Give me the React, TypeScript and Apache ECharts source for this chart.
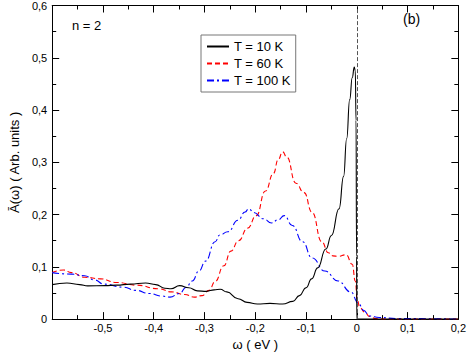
import React, { useEffect, useRef } from "react";
import * as echarts from "echarts";

const xTicks = [-0.6, -0.5, -0.4, -0.3, -0.2, -0.1, 0, 0.1, 0.2];
const yTicks = [0, 0.1, 0.2, 0.3, 0.4, 0.5, 0.6];
const seriesNames = ["T = 10 K", "T = 60 K", "T = 100 K"];

const t10: [number, number][] = [
  [-0.6, 0.066], [-0.571, 0.069], [-0.546, 0.066], [-0.53, 0.0635], [-0.496, 0.064],
  [-0.473, 0.065], [-0.446, 0.067], [-0.416, 0.069], [-0.396, 0.066], [-0.378, 0.059],
  [-0.366, 0.058], [-0.349, 0.064], [-0.331, 0.06], [-0.314, 0.054], [-0.296, 0.053],
  [-0.281, 0.056], [-0.269, 0.057], [-0.256, 0.052], [-0.234, 0.039], [-0.216, 0.032],
  [-0.196, 0.029], [-0.171, 0.03], [-0.146, 0.029], [-0.126, 0.034], [-0.113, 0.045],
  [-0.1, 0.06], [-0.089, 0.077], [-0.077, 0.098], [-0.061, 0.134], [-0.05, 0.16],
  [-0.035, 0.211], [-0.026, 0.273], [-0.02, 0.345], [-0.014, 0.42], [-0.009, 0.462],
  [-0.005, 0.482], [-0.003, 0.475], [-0.0015, 0.38], [-0.0005, 0.12], [0, 0], [0.2, 0],
];

const t60: [number, number][] = [
  [-0.6, 0.089], [-0.578, 0.094], [-0.562, 0.089], [-0.536, 0.08], [-0.505, 0.077],
  [-0.473, 0.07], [-0.435, 0.065], [-0.39, 0.058], [-0.365, 0.052], [-0.339, 0.047],
  [-0.32, 0.042], [-0.305, 0.045], [-0.291, 0.055], [-0.279, 0.072], [-0.262, 0.102],
  [-0.248, 0.13], [-0.233, 0.15], [-0.215, 0.174], [-0.198, 0.198], [-0.18, 0.245],
  [-0.164, 0.279], [-0.155, 0.305], [-0.146, 0.32], [-0.138, 0.31], [-0.12, 0.26],
  [-0.104, 0.242], [-0.088, 0.204], [-0.069, 0.148], [-0.056, 0.127], [-0.047, 0.121],
  [-0.037, 0.12], [-0.021, 0.123], [-0.009, 0.105], [-0.003, 0.073], [0.001, 0.036],
  [0.006, 0.022], [0.016, 0.013], [0.025, 0.005], [0.037, 0.001], [0.05, 0], [0.2, 0],
];

const t100: [number, number][] = [
  [-0.6, 0.089], [-0.562, 0.086], [-0.536, 0.083], [-0.517, 0.075], [-0.498, 0.067],
  [-0.46, 0.061], [-0.435, 0.055], [-0.409, 0.049], [-0.384, 0.044], [-0.368, 0.042],
  [-0.349, 0.049], [-0.336, 0.061], [-0.324, 0.073], [-0.311, 0.092], [-0.298, 0.111],
  [-0.279, 0.148], [-0.27, 0.161], [-0.254, 0.167], [-0.234, 0.189], [-0.22, 0.205],
  [-0.213, 0.211], [-0.203, 0.204], [-0.184, 0.192], [-0.168, 0.184], [-0.155, 0.19],
  [-0.143, 0.198], [-0.127, 0.179], [-0.107, 0.148], [-0.088, 0.117], [-0.063, 0.092],
  [-0.037, 0.073], [-0.012, 0.052], [0.003, 0.031], [0.013, 0.017], [0.025, 0.006],
  [0.044, 0.003], [0.08, 0.001], [0.2, 0],
];

const FONT = "'Liberation Sans', Arial, Helvetica, sans-serif";

const fmt = (v: number) => {
  if (Math.abs(v) < 1e-9) return "0";
  return v.toFixed(1).replace(".", ",");
};

export default function App() {
  const ref = useRef<HTMLDivElement>(null);

  useEffect(() => {
    if (!ref.current) return;
    const chart = echarts.init(ref.current, null, { renderer: "svg" });

    const xMin = xTicks[0];
    const xMax = xTicks[xTicks.length - 1];
    const yMin = yTicks[0];
    const yMax = yTicks[yTicks.length - 1];

    const baseAxisLine = { show: true, lineStyle: { color: "#000", width: 1 } };
    const tick = { show: true, inside: true, length: 7, lineStyle: { color: "#000" } };
    const minor = { show: true, splitNumber: 2, length: 4, lineStyle: { color: "#000" } };

    const option: any = {
      animation: false,
      backgroundColor: "#fff",
      grid: { left: 38, right: 10, top: 5, bottom: 30, containLabel: false },
      xAxis: [
        {
          type: "value",
          position: "bottom",
          min: xMin,
          max: xMax,
          interval: 0.1,
          axisLine: { ...baseAxisLine, onZero: false },
          axisTick: tick,
          minorTick: minor,
          splitLine: { show: false },
          axisLabel: {
            formatter: fmt,
            showMinLabel: false,
            showMaxLabel: true,
            margin: 3,
            color: "#000",
            fontSize: 11,
            fontFamily: FONT,
          },
          name: "ω ( eV )",
          nameLocation: "middle",
          nameGap: 17,
          nameTextStyle: { color: "#000", fontSize: 13, fontFamily: FONT },
        },
        {
          type: "value",
          position: "top",
          min: xMin,
          max: xMax,
          interval: 0.1,
          axisLine: { ...baseAxisLine, onZero: false },
          axisTick: tick,
          minorTick: minor,
          splitLine: { show: false },
          axisLabel: { show: false },
        },
      ],
      yAxis: [
        {
          type: "value",
          position: "left",
          min: yMin,
          max: yMax,
          interval: 0.1,
          axisLine: { ...baseAxisLine, onZero: false },
          axisTick: tick,
          minorTick: minor,
          splitLine: { show: false },
          axisLabel: {
            formatter: fmt,
            margin: 5,
            color: "#000",
            fontSize: 11,
            fontFamily: FONT,
          },
          name: "Ā(ω) ( Arb. units )",
          nameLocation: "middle",
          nameGap: 21,
          nameRotate: 90,
          nameTextStyle: { color: "#000", fontSize: 13, fontFamily: FONT },
        },
        {
          type: "value",
          position: "right",
          min: yMin,
          max: yMax,
          interval: 0.1,
          axisLine: { ...baseAxisLine, onZero: false },
          axisTick: tick,
          minorTick: minor,
          splitLine: { show: false },
          axisLabel: { show: false },
        },
      ],
      legend: {
        data: seriesNames,
        orient: "vertical",
        left: 201,
        top: 35,
        itemWidth: 22,
        itemHeight: 14,
        itemGap: 4,
        padding: [5, 5, 5, 5],
        borderColor: "#777",
        borderWidth: 1,
        backgroundColor: "#fff",
        itemStyle: { opacity: 0, borderWidth: 0, color: "rgba(0,0,0,0)" },
        textStyle: { color: "#000", fontSize: 13, fontFamily: FONT },
      },
      graphic: [
        {
          type: "text",
          left: 72,
          top: 19,
          style: { text: "n = 2", fontSize: 13, fontFamily: FONT, fill: "#000" },
        },
        {
          type: "text",
          left: 403,
          top: 12,
          style: { text: "(b)", fontSize: 14, fontFamily: FONT, fill: "#000" },
        },
      ],
      series: [
        {
          name: seriesNames[0],
          type: "line",
          data: t10,
          symbol: "none",
          smooth: 0.5,
          smoothMonotone: "x",
          lineStyle: { color: "#000", width: 1.1, type: "solid" },
          itemStyle: { color: "#000" },
          z: 3,
          markLine: {
            silent: true,
            symbol: "none",
            label: { show: false },
            lineStyle: { color: "#555", width: 1, type: [4, 2] },
            data: [{ xAxis: 0 }],
          },
        },
        {
          name: seriesNames[1],
          type: "line",
          data: t60,
          symbol: "none",
          smooth: 0.5,
          smoothMonotone: "x",
          lineStyle: { color: "#ff0000", width: 1.1, type: [5, 3] },
          itemStyle: { color: "#ff0000" },
          z: 2,
        },
        {
          name: seriesNames[2],
          type: "line",
          data: t100,
          symbol: "none",
          smooth: 0.5,
          smoothMonotone: "x",
          lineStyle: { color: "#0000ff", width: 1.1, type: [7, 3, 2, 3] },
          itemStyle: { color: "#0000ff" },
          z: 2,
        },
      ],
    };

    chart.setOption(option);
    return () => chart.dispose();
  }, []);

  return (
    <div
      ref={ref}
      style={{ position: "fixed", left: 0, top: 0, width: 469, height: 356 }}
    />
  );
}
